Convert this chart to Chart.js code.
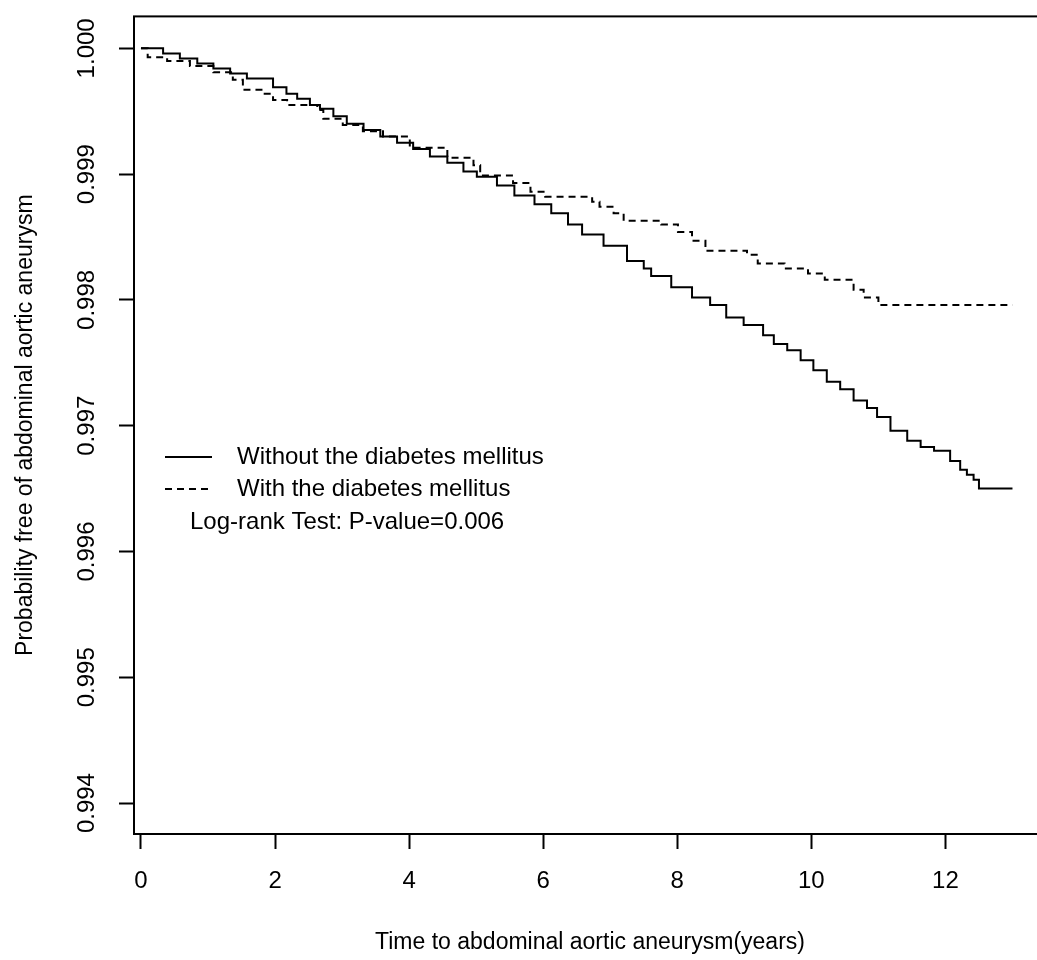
<!DOCTYPE html>
<html lang="en">
<head>
    <meta charset="UTF-8">
    <title>Kaplan-Meier: abdominal aortic aneurysm</title>
    <script src="https://cdn.jsdelivr.net/npm/chart.js"></script>
    <style>
        html, body {
            margin: 0;
            padding: 0;
            background: #fff;
            overflow: hidden;
        }
        canvas {
            display: block;
        }
    </style>
</head>
<body>
    <canvas id="kmChart" width="1050" height="960" style="width:1050px;height:960px"></canvas>

    <script>
        // Survival curves (time in years, probability free of AAA)
        const timeNoDM = [0, 0.33, 0.58, 0.84, 1.08, 1.33, 1.58, 1.97, 2.17, 2.33, 2.52, 2.67, 2.87, 3.07, 3.32,
            3.57, 3.82, 4.06, 4.31, 4.57, 4.81, 5.01, 5.31, 5.57, 5.87, 6.12, 6.37, 6.58, 6.9, 7.25, 7.5,
            7.61, 7.91, 8.22, 8.49, 8.73, 8.99, 9.28, 9.44, 9.64, 9.84, 10.03, 10.23, 10.43, 10.63, 10.83,
            10.98, 11.18, 11.43, 11.63, 11.83, 12.07, 12.22, 12.32, 12.42, 12.5, 13.0];
        const survNoDM = [1.0000, 0.99996, 0.99992, 0.99988, 0.99984, 0.99980, 0.99976, 0.99969, 0.99964, 0.99960,
            0.99955, 0.99952, 0.99946, 0.99940, 0.99935, 0.99930, 0.99925, 0.99920, 0.99914, 0.99909,
            0.99902, 0.99898, 0.99891, 0.99883, 0.99876, 0.99869, 0.99860, 0.99852, 0.99843, 0.99831,
            0.99825, 0.99819, 0.99810, 0.99802, 0.99796, 0.99786, 0.99780, 0.99772, 0.99765, 0.99760,
            0.99752, 0.99744, 0.99735, 0.99729, 0.99720, 0.99714, 0.99707, 0.99696, 0.99688, 0.99683,
            0.99680, 0.99672, 0.99665, 0.99661, 0.99657, 0.99650, 0.99650];

        const timeDM = [0, 0.1, 0.39, 0.73, 1.08, 1.37, 1.52, 1.82, 1.97, 2.18, 2.63, 2.72, 3.01, 3.31, 3.61,
            4.01, 4.57, 4.96, 5.06, 5.55, 5.81, 6.03, 6.73, 6.84, 7.05, 7.2, 7.76, 8.01, 8.22, 8.42,
            9.04, 9.2, 9.6, 9.95, 10.2, 10.63, 10.78, 11.0, 13.0];
        const survDM = [1.0000, 0.99993, 0.99990, 0.99986, 0.99981, 0.99975, 0.99967, 0.99964, 0.99959, 0.99955,
            0.99951, 0.99944, 0.99939, 0.99934, 0.99930, 0.99921, 0.99913, 0.99907, 0.99899, 0.99893,
            0.99886, 0.99882, 0.99878, 0.99874, 0.99869, 0.99863, 0.99860, 0.99854, 0.99847, 0.99839,
            0.99836, 0.99829, 0.99825, 0.99821, 0.99816, 0.99808, 0.99802, 0.99796, 0.99796];

        const xTicks = [0, 2, 4, 6, 8, 10, 12];
        const yTicks = [0.994, 0.995, 0.996, 0.997, 0.998, 0.999, 1.000];

        const seriesLabels = ['Without the diabetes mellitus', 'With the diabetes mellitus'];
        const testLabel = 'Log-rank Test: P-value=0.006';
        const xTitle = 'Time to abdominal aortic aneurysm(years)';
        const yTitle = 'Probability free of abdominal aortic aneurysm';

        const toPoints = (xs, ys) => xs.map((x, i) => ({ x: x, y: ys[i] }));

        Chart.defaults.font.family = "'Liberation Sans', Arial, sans-serif";
        Chart.defaults.font.size = 24;
        Chart.defaults.color = '#000';

        // box around the plot region, R style
        const boxPlugin = {
            id: 'box',
            afterDatasetsDraw(chart) {
                const a = chart.chartArea;
                const ctx = chart.ctx;
                ctx.save();
                ctx.strokeStyle = '#000';
                ctx.lineWidth = 2;
                ctx.strokeRect(a.left, a.top, a.right - a.left, a.bottom - a.top);
                ctx.restore();
            }
        };

        // legend + log-rank text inside the plot
        const innerLegend = {
            id: 'innerLegend',
            afterDraw(chart) {
                const ctx = chart.ctx;
                ctx.save();
                ctx.font = "24px 'Liberation Sans', Arial, sans-serif";
                ctx.fillStyle = '#000';
                ctx.textBaseline = 'middle';
                chart.data.datasets.forEach((ds, i) => {
                    const y = 457 + i * 32;
                    ctx.strokeStyle = '#000';
                    ctx.lineWidth = 2;
                    ctx.setLineDash(ds.borderDash || []);
                    ctx.beginPath();
                    ctx.moveTo(165, y);
                    ctx.lineTo(212, y);
                    ctx.stroke();
                    ctx.setLineDash([]);
                    ctx.fillText(ds.label, 237, y);
                });
                ctx.fillText(testLabel, 190, 522);
                ctx.restore();
            }
        };

        const ctx = document.getElementById('kmChart').getContext('2d');
        new Chart(ctx, {
            type: 'line',
            data: {
                datasets: [
                    {
                        label: seriesLabels[0],
                        data: toPoints(timeNoDM, survNoDM),
                        borderColor: '#000',
                        borderWidth: 2,
                        pointRadius: 0,
                        stepped: true,
                        fill: false
                    },
                    {
                        label: seriesLabels[1],
                        data: toPoints(timeDM, survDM),
                        borderColor: '#000',
                        borderWidth: 2,
                        borderDash: [7, 5],
                        pointRadius: 0,
                        stepped: true,
                        fill: false
                    }
                ]
            },
            options: {
                responsive: false,
                animation: false,
                layout: {
                    padding: { top: 16, right: 4, left: 0, bottom: 0 }
                },
                plugins: {
                    legend: { display: false },
                    tooltip: { enabled: false }
                },
                scales: {
                    x: {
                        type: 'linear',
                        min: -0.104,
                        max: 13.5,
                        afterBuildTicks: (s) => { s.ticks = xTicks.map(v => ({ value: v })); },
                        afterFit: (s) => { s.height = 126; },
                        grid: {
                            drawOnChartArea: false,
                            drawTicks: true,
                            tickLength: 15,
                            tickWidth: 2,
                            tickColor: '#000'
                        },
                        border: { display: false },
                        ticks: {
                            padding: 18,
                            maxRotation: 0,
                            callback: (v) => String(v)
                        },
                        title: {
                            display: true,
                            text: xTitle,
                            font: { size: 23 },
                            padding: { top: 0, bottom: 4 }
                        }
                    },
                    y: {
                        type: 'linear',
                        min: 0.993754,
                        max: 1.000254,
                        afterBuildTicks: (s) => { s.ticks = yTicks.map(v => ({ value: v })); },
                        afterFit: (s) => { s.width = 134; },
                        grid: {
                            drawOnChartArea: false,
                            drawTicks: true,
                            tickLength: 15,
                            tickWidth: 2,
                            tickColor: '#000'
                        },
                        border: { display: false },
                        ticks: {
                            minRotation: 90,
                            maxRotation: 90,
                            crossAlign: 'center',
                            padding: 2,
                            callback: (v) => Number(v).toFixed(3)
                        },
                        title: {
                            display: true,
                            text: yTitle,
                            font: { size: 23 },
                            padding: { top: 12, bottom: 0 }
                        }
                    }
                }
            },
            plugins: [boxPlugin, innerLegend]
        });
    </script>
</body>
</html>
